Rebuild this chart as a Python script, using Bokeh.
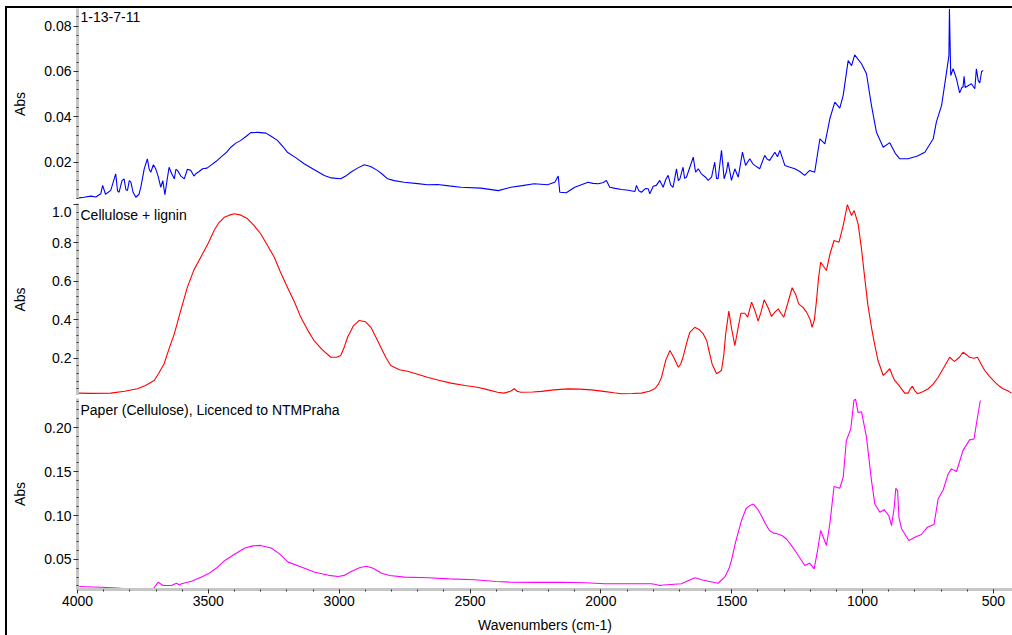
from bokeh.plotting import figure
from bokeh.layouts import column
from bokeh.models import Range1d, FixedTicker, Label, PrintfTickFormatter
from bokeh.embed import file_html
from bokeh.resources import INLINE
from bokeh.core.validation import silence
from bokeh.core.validation.warnings import MISSING_RENDERERS

silence(MISSING_RENDERERS, True)

FONT = "Liberation Sans"

# ---------------- data (wavenumber cm-1, absorbance) ----------------
title1 = "1-13-7-11"
wn1 = [4000, 3975, 3949, 3930, 3911, 3904, 3893, 3873, 3854, 3847, 3841, 3830, 3822, 3815, 3809,
       3802, 3796, 3788, 3777, 3765, 3758, 3745, 3733, 3726, 3720, 3710, 3701, 3692, 3682, 3674,
       3666, 3658, 3650, 3640, 3630, 3624, 3618, 3605, 3592, 3580, 3567, 3555, 3548, 3535, 3522,
       3505, 3491, 3470, 3452, 3430, 3414, 3395, 3376, 3355, 3338, 3310, 3280, 3260, 3236, 3215,
       3198, 3165, 3134, 3095, 3057, 3030, 2994, 2975, 2956, 2930, 2904, 2880, 2854, 2835, 2815,
       2790, 2752, 2700, 2663, 2624, 2580, 2535, 2459, 2392, 2344, 2300, 2255, 2204, 2176, 2163,
       2157, 2132, 2100, 2049, 2030, 2010, 1990, 1979, 1966, 1945, 1921, 1895, 1870, 1864, 1855,
       1845, 1830, 1819, 1813, 1800, 1788, 1775, 1762, 1752, 1743, 1733, 1724, 1711, 1704, 1698,
       1686, 1680, 1673, 1660, 1647, 1638, 1628, 1616, 1600, 1590, 1577, 1565, 1558, 1552, 1539,
       1529, 1520, 1514, 1501, 1488, 1475, 1459, 1447, 1431, 1420, 1412, 1393, 1374, 1365, 1355,
       1335, 1325, 1316, 1297, 1280, 1259, 1240, 1221, 1202, 1183, 1163, 1144, 1125, 1106, 1087,
       1074, 1055, 1042, 1030, 1004, 985, 966, 947, 921, 896, 875, 858, 826, 790, 762,
       730, 718, 698, 679, 670, 668, 663, 654, 641, 629, 620, 616, 612, 608, 584,
       571, 565, 558, 552, 545, 539]
abs1 = [0.0043, 0.0047, 0.0052, 0.0048, 0.0062, 0.0099, 0.0060, 0.0077, 0.0150, 0.0075, 0.0069, 0.0120, 0.0128, 0.0080, 0.0077,
        0.0120, 0.0113, 0.0070, 0.0047, 0.0060, 0.0091, 0.0172, 0.0216, 0.0170, 0.0157, 0.0190, 0.0172, 0.0140, 0.0091, 0.0120,
        0.0058, 0.0120, 0.0179, 0.0150, 0.0128, 0.0170, 0.0165, 0.0140, 0.0128, 0.0170, 0.0165, 0.0140, 0.0150, 0.0160, 0.0172,
        0.0175, 0.0187, 0.0205, 0.0223, 0.0245, 0.0267, 0.0285, 0.0297, 0.0315, 0.0331, 0.0332, 0.0329, 0.0315, 0.0297, 0.0270,
        0.0245, 0.0220, 0.0194, 0.0168, 0.0143, 0.0132, 0.0128, 0.0140, 0.0157, 0.0175, 0.0190, 0.0182, 0.0165, 0.0148, 0.0128,
        0.0120, 0.0113, 0.0107, 0.0102, 0.0103, 0.0097, 0.0091, 0.0087, 0.0076, 0.0091, 0.0098, 0.0106, 0.0102, 0.0113, 0.0140,
        0.0069, 0.0067, 0.0091, 0.0113, 0.0108, 0.0106, 0.0112, 0.0121, 0.0091, 0.0086, 0.0081, 0.0078, 0.0072, 0.0099, 0.0075,
        0.0069, 0.0085, 0.0084, 0.0062, 0.0095, 0.0099, 0.0121, 0.0091, 0.0125, 0.0143, 0.0100, 0.0091, 0.0172, 0.0120, 0.0128,
        0.0179, 0.0130, 0.0135, 0.0179, 0.0223, 0.0157, 0.0172, 0.0150, 0.0135, 0.0121, 0.0135, 0.0201, 0.0130, 0.0128, 0.0253,
        0.0128, 0.0160, 0.0201, 0.0121, 0.0172, 0.0135, 0.0245, 0.0187, 0.0216, 0.0195, 0.0187, 0.0172, 0.0231, 0.0215, 0.0209,
        0.0245, 0.0225, 0.0253, 0.0187, 0.0180, 0.0172, 0.0160, 0.0143, 0.0165, 0.0157, 0.0304, 0.0282, 0.0392, 0.0465, 0.0439,
        0.0495, 0.0648, 0.0626, 0.0673, 0.0634, 0.0590, 0.0451, 0.0333, 0.0267, 0.0287, 0.0240, 0.0216, 0.0216, 0.0228, 0.0245,
        0.0304, 0.0377, 0.0451, 0.0597, 0.0670, 0.0876, 0.0582, 0.0612, 0.0568, 0.0506, 0.0531, 0.0531, 0.0579, 0.0530, 0.0546,
        0.0524, 0.0612, 0.0560, 0.0550, 0.0600, 0.0604]

title2 = "Cellulose + lignin"
wn2 = [4000, 3950, 3873, 3820, 3771, 3740, 3707, 3690, 3669, 3650, 3630, 3605, 3580, 3555, 3529,
       3500, 3478, 3460, 3439, 3420, 3401, 3375, 3350, 3325, 3300, 3275, 3248, 3225, 3198, 3170,
       3147, 3120, 3096, 3065, 3032, 3010, 2994, 2980, 2968, 2945, 2924, 2900, 2879, 2860, 2841,
       2820, 2803, 2770, 2739, 2700, 2663, 2620, 2573, 2520, 2472, 2430, 2395, 2370, 2345, 2331,
       2320, 2306, 2260, 2227, 2180, 2125, 2080, 2036, 1990, 1950, 1921, 1880, 1845, 1815, 1794,
       1780, 1768, 1752, 1736, 1720, 1704, 1695, 1686, 1670, 1660, 1641, 1625, 1609, 1595, 1590,
       1575, 1558, 1539, 1530, 1523, 1511, 1500, 1488, 1478, 1465, 1450, 1439, 1424, 1412, 1399,
       1388, 1376, 1360, 1348, 1335, 1322, 1310, 1301, 1285, 1269, 1255, 1244, 1228, 1214, 1200,
       1193, 1184, 1176, 1168, 1160, 1150, 1138, 1125, 1109, 1090, 1074, 1058, 1050, 1042, 1032,
       1017, 1005, 992, 980, 966, 955, 941, 921, 910, 896, 886, 877, 858, 839, 826,
       818, 810, 800, 790, 770, 749, 730, 711, 690, 667, 655, 648, 630, 616, 600,
       591, 575, 561, 547, 533, 515, 494, 478, 463, 445, 431]
abs2 = [0.018, 0.017, 0.018, 0.028, 0.041, 0.058, 0.084, 0.120, 0.171, 0.250, 0.327, 0.450, 0.570, 0.660, 0.726,
        0.800, 0.865, 0.905, 0.934, 0.945, 0.952, 0.945, 0.926, 0.890, 0.848, 0.790, 0.726, 0.650, 0.570, 0.490,
        0.414, 0.345, 0.292, 0.245, 0.205, 0.205, 0.214, 0.260, 0.309, 0.370, 0.396, 0.390, 0.361, 0.310, 0.257,
        0.200, 0.162, 0.140, 0.132, 0.116, 0.101, 0.085, 0.070, 0.058, 0.049, 0.035, 0.023, 0.018, 0.028, 0.041,
        0.028, 0.023, 0.024, 0.027, 0.035, 0.040, 0.039, 0.035, 0.027, 0.020, 0.015, 0.016, 0.018, 0.028, 0.041,
        0.065, 0.101, 0.190, 0.240, 0.200, 0.153, 0.170, 0.205, 0.290, 0.335, 0.361, 0.350, 0.327, 0.290, 0.257,
        0.170, 0.119, 0.136, 0.220, 0.327, 0.445, 0.350, 0.266, 0.340, 0.434, 0.434, 0.414, 0.492, 0.450, 0.393,
        0.440, 0.504, 0.460, 0.417, 0.440, 0.457, 0.430, 0.414, 0.490, 0.567, 0.530, 0.483, 0.465, 0.440, 0.400,
        0.361, 0.400, 0.500, 0.620, 0.700, 0.680, 0.657, 0.740, 0.813, 0.804, 0.891, 1.000, 0.970, 0.943, 0.969,
        0.900, 0.780, 0.622, 0.480, 0.361, 0.280, 0.188, 0.110, 0.125, 0.145, 0.110, 0.084, 0.053, 0.018, 0.018,
        0.040, 0.054, 0.030, 0.015, 0.025, 0.041, 0.065, 0.101, 0.150, 0.205, 0.190, 0.183, 0.205, 0.231, 0.215,
        0.205, 0.200, 0.205, 0.170, 0.136, 0.105, 0.075, 0.055, 0.041, 0.030, 0.018]

title3 = "Paper (Cellulose), Licenced to NTMPraha"
wn3 = [4000, 3908, 3850, 3800, 3743, 3711, 3692, 3673, 3641, 3622, 3610, 3603, 3564, 3526, 3500,
       3470, 3437, 3400, 3360, 3330, 3300, 3260, 3230, 3195, 3150, 3093, 3040, 3004, 2980, 2950,
       2920, 2896, 2870, 2838, 2807, 2750, 2660, 2580, 2482, 2400, 2342, 2250, 2151, 2060, 1985,
       1900, 1807, 1790, 1775, 1760, 1692, 1665, 1641, 1615, 1590, 1552, 1527, 1510, 1501, 1485,
       1463, 1445, 1432, 1417, 1400, 1387, 1370, 1356, 1340, 1329, 1306, 1290, 1272, 1253, 1233,
       1221, 1202, 1185, 1172, 1160, 1150, 1138, 1125, 1109, 1087, 1074, 1062, 1045, 1033, 1027,
       1017, 1004, 985, 966, 953, 934, 917, 900, 889, 879, 873, 866, 861, 851, 823,
       794, 775, 752, 727, 711, 692, 673, 661, 641, 616, 591, 574, 565, 550]
abs3 = [0.0193, 0.0185, 0.0175, 0.0165, 0.0163, 0.0163, 0.0242, 0.0205, 0.0205, 0.0230, 0.0210, 0.0224, 0.0253, 0.0300, 0.0337,
        0.0400, 0.0489, 0.0560, 0.0630, 0.0655, 0.0660, 0.0630, 0.0570, 0.0470, 0.0420, 0.0356, 0.0320, 0.0307, 0.0320, 0.0370,
        0.0410, 0.0424, 0.0400, 0.0344, 0.0318, 0.0300, 0.0292, 0.0280, 0.0269, 0.0250, 0.0242, 0.0240, 0.0242, 0.0235, 0.0224,
        0.0224, 0.0224, 0.0215, 0.0205, 0.0210, 0.0224, 0.0260, 0.0292, 0.0270, 0.0253, 0.0230, 0.0299, 0.0400, 0.0489, 0.0700,
        0.0940, 0.1080, 0.1110, 0.1130, 0.1070, 0.1000, 0.0900, 0.0830, 0.0800, 0.0795, 0.0770, 0.0730, 0.0660, 0.0580, 0.0489,
        0.0432, 0.0458, 0.0394, 0.0602, 0.0830, 0.0753, 0.0659, 0.0906, 0.1330, 0.1310, 0.1435, 0.1850, 0.1985, 0.2307, 0.2326,
        0.2170, 0.2180, 0.1890, 0.1400, 0.1130, 0.1037, 0.1065, 0.1000, 0.0886, 0.1094, 0.1310, 0.1280, 0.0980, 0.0850, 0.0716,
        0.0761, 0.0784, 0.0867, 0.0898, 0.1190, 0.1290, 0.1470, 0.1530, 0.1500, 0.1740, 0.1860, 0.1870, 0.2040, 0.2307]

x_ticks = [4000, 3500, 3000, 2500, 2000, 1500, 1000, 500]
y_ticks1 = [0.02, 0.04, 0.06, 0.08]
y_ticks2 = [0.2, 0.4, 0.6, 0.8, 1.0]
y_ticks3 = [0.05, 0.10, 0.15, 0.20]

# ---------------- styling ----------------
BAR = "#c6c6c6"
SEP = "#ece9d8"
TICK = "#303030"
FRAME_W = 935
LEFT = 70

x_range = Range1d(4000, 427)


def make_panel(frame_h, yr, ticks, minor_step, fmt, title, xs, ys, color, label_standoff):
    p = figure(frame_width=FRAME_W, frame_height=frame_h, x_range=x_range,
               y_range=Range1d(*yr), output_backend="svg", toolbar_location=None,
               min_border_left=LEFT, min_border_right=0, min_border_top=0, min_border_bottom=0,
               outline_line_color=None, background_fill_color="white", border_fill_color="white")
    p.grid.visible = False
    p.line(xs, ys, line_color=color, line_width=1.1)

    n = int(round(yr[1] / minor_step)) + 1
    minor = [round(i * minor_step, 6) for i in range(n) if yr[0] <= i * minor_step <= yr[1]]
    ya = p.yaxis[0]
    ya.ticker = FixedTicker(ticks=ticks, minor_ticks=minor)
    ya.formatter = PrintfTickFormatter(format=fmt)
    ya.axis_label = "Abs"
    ya.axis_label_text_font = FONT
    ya.axis_label_text_font_size = "14px"
    ya.axis_label_text_font_style = "normal"
    ya.axis_label_text_color = "black"
    ya.axis_label_standoff = label_standoff
    ya.major_label_text_font = FONT
    ya.major_label_text_font_size = "14px"
    ya.major_label_text_color = "black"
    ya.major_label_standoff = 2
    ya.axis_line_color = BAR
    ya.axis_line_width = 3
    ya.major_tick_out = 4
    ya.major_tick_in = 0
    ya.major_tick_line_color = TICK
    ya.minor_tick_out = 1
    ya.minor_tick_in = 1
    ya.minor_tick_line_color = TICK

    p.add_layout(Label(x=4000, y=yr[1], x_offset=3, y_offset=-3, text=title,
                       text_baseline="top", text_align="left", text_font=FONT,
                       text_font_size="14px", text_color="black"))
    return p


def make_sep(h):
    s = figure(frame_width=FRAME_W, frame_height=h, x_range=x_range, y_range=Range1d(0, 1),
               output_backend="svg", toolbar_location=None,
               min_border_left=LEFT, min_border_right=0, min_border_top=0, min_border_bottom=0,
               outline_line_color=None, background_fill_color=SEP, border_fill_color="white")
    s.grid.visible = False
    s.xaxis.visible = False
    ya = s.yaxis[0]
    ya.ticker = FixedTicker(ticks=[])
    ya.major_label_text_font_size = "0px"
    ya.major_label_standoff = 0
    ya.major_tick_out = 0
    ya.minor_tick_out = 0
    ya.minor_tick_in = 0
    ya.axis_line_color = BAR
    ya.axis_line_width = 3
    return s


p1 = make_panel(191, (0.0037, 0.0877), y_ticks1, 0.004, "%.2f", title1, wn1, abs1, "#0000ff", 13)
p1.xaxis.visible = False
s1 = make_sep(4)
p2 = make_panel(192, (0.0057, 1.0057), y_ticks2, 0.04, "%.1f", title2, wn2, abs2, "#ff0000", 21)
p2.xaxis.visible = False
# the top label sits just below its tick (as in the original), so it is not cut at the panel edge
p2.yaxis[0].major_label_overrides = {1.0: "\n1.0"}
p2.yaxis[0].major_label_text_line_height = 0.05
s2 = make_sep(3)
p3 = make_panel(191, (0.0159, 0.233), y_ticks3, 0.01, "%.2f", title3, wn3, abs3, "#ff00ff", 13)

xa = p3.xaxis[0]
xa.ticker = FixedTicker(ticks=x_ticks, minor_ticks=list(range(500, 4001, 100)))
xa.axis_label = "Wavenumbers (cm-1)"
xa.axis_label_text_font = FONT
xa.axis_label_text_font_size = "14px"
xa.axis_label_text_font_style = "normal"
xa.axis_label_text_color = "black"
xa.axis_label_standoff = 8
xa.major_label_text_font = FONT
xa.major_label_text_font_size = "14px"
xa.major_label_text_color = "black"
xa.major_label_standoff = 2
xa.axis_line_color = BAR
xa.axis_line_width = 3
xa.major_tick_out = 4
xa.major_tick_in = 0
xa.major_tick_line_color = TICK
xa.minor_tick_out = 2
xa.minor_tick_in = 0
xa.minor_tick_line_color = TICK

layout = column(p1, s1, p2, s2, p3, spacing=0,
                stylesheets=[":host { margin-left: 5px; margin-top: 6px; "
                             "border-left: 2px solid black; border-top: 2px solid black; }"])

open("out.html", "w").write(file_html(layout, INLINE))
